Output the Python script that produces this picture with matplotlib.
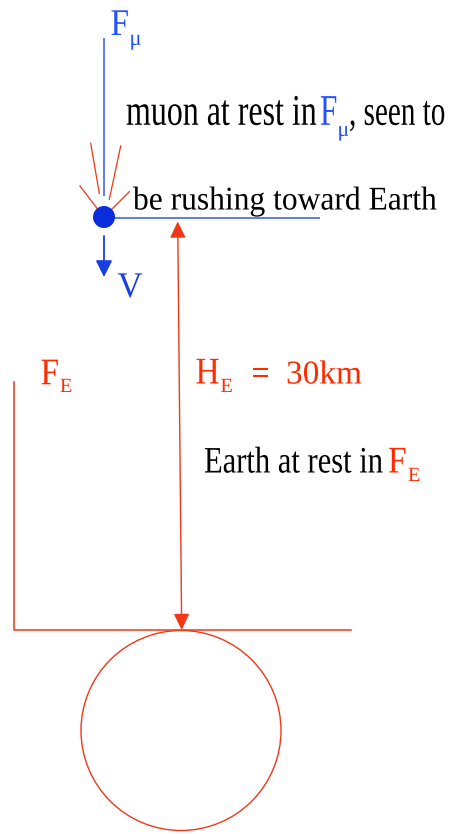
import matplotlib
matplotlib.use("Agg")
import matplotlib.pyplot as plt
from matplotlib.patches import Circle, FancyArrowPatch, ArrowStyle
from matplotlib.patheffects import AbstractPathEffect
from matplotlib.transforms import Affine2D

# ---- content ----
frame_letter = "F"
muon_sub = "μ"
earth_sub = "E"
muon_caption = ["muon at rest in", ", seen to", "be rushing toward Earth"]
earth_caption = "Earth at rest in"
height_symbol = "H"
height_value = "30km"
velocity_label = "V"

# ---- colours ----
BLUE_TXT = "#2050ff"
BLUE_LINE = "#5073ee"
BLUE_DOT = "#0b2ddb"
BLUE_ARROW = "#1a3ee0"
RED = "#ff2a00"
RED_LINE = "#f03818"

plt.rcParams["font.family"] = ["Liberation Serif", "DejaVu Serif"]


class Stretch(AbstractPathEffect):
    """Scale the glyph outlines about the text baseline origin."""

    def __init__(self, sx=1.0, sy=1.0):
        super().__init__()
        self.sx, self.sy = sx, sy

    def draw_path(self, renderer, gc, tpath, affine, rgbFace=None):
        renderer.draw_path(gc, tpath, Affine2D().scale(self.sx, self.sy) + affine, rgbFace)


fig = plt.figure(figsize=(4.55, 8.34), dpi=100)
ax = fig.add_axes([0, 0, 1, 1])
ax.set_xlim(0, 455)
ax.set_ylim(834, 0)
ax.axis("off")


def put(x, y, s, size, color="black", sy=1.0, sx=1.0):
    ax.text(x, y, s, fontsize=size, color=color, ha="left", va="baseline",
            path_effects=[Stretch(sx, sy)])


def arrow(p0, p1, style, color, lw):
    a = FancyArrowPatch(p0, p1, arrowstyle=style, color=color, lw=lw,
                        shrinkA=0, shrinkB=0, mutation_scale=1)
    ax.add_patch(a)


# ---- muon frame ----
ax.plot([103.5, 103.5], [38, 196], color=BLUE_LINE, lw=1.3, solid_capstyle="butt")
ax.plot([104, 320], [217.5, 217.5], color=BLUE_LINE, lw=1.3, solid_capstyle="butt")
ax.add_patch(Circle((104, 217), 11, facecolor=BLUE_DOT, edgecolor="none", zorder=3))
arrow((104, 236), (104, 277), ArrowStyle("-|>", head_length=10, head_width=5), BLUE_ARROW, 1.3)

# red rays from the muon
rays = [((90.7, 143.3), (99.3, 193.3)),
        ((120.7, 146.0), (109.3, 199.3)),
        ((80.0, 186.0), (98.3, 210.0)),
        ((129.3, 191.7), (109.3, 211.7))]
for (x0, y0), (x1, y1) in rays:
    ax.plot([x0, x1], [y0, y1], color=RED_LINE, lw=0.9)

# ---- height arrow ----
arrow((177.7, 221.5), (181.7, 630), ArrowStyle("<|-|>", head_length=10, head_width=4.8), RED_LINE, 1.0)

# ---- earth frame ----
ax.plot([13.5, 13.5, 351], [382, 630, 630], color=RED_LINE, lw=1.1)
ax.add_patch(Circle((181, 730.5), 100, fill=False, edgecolor=RED_LINE, lw=1.0))

# ---- text ----
# F_mu label
put(110.5, 35, frame_letter, 24, BLUE_TXT, sy=1.13)
put(129.5, 45, muon_sub, 16, BLUE_TXT)

# muon caption
put(126, 124.8, muon_caption[0], 23, sy=1.37)
put(320, 124.8, frame_letter, 22.5, BLUE_TXT, sy=1.4)
put(337.5, 136, muon_sub, 15.5, BLUE_TXT)
put(349, 124.8, muon_caption[1], 21, sy=1.45)
put(133, 209.5, muon_caption[2], 22.7, sy=1.05)

# V
put(117.5, 297, velocity_label, 25, BLUE_ARROW, sy=1.04)

# F_E label
put(40.5, 384.3, frame_letter, 24, RED, sy=1.13)
put(60, 392, earth_sub, 14.5, RED)

# H_E = 30km
put(195.5, 383.5, height_symbol, 24, RED, sy=1.13)
put(220.5, 392, earth_sub, 14.5, RED)
put(251, 383.5, "=", 24, RED)
put(286, 383.5, height_value, 24, RED)

# Earth caption
put(204, 472.5, earth_caption, 22, sy=1.22)
put(388, 472.5, frame_letter, 24, RED, sy=1.13)
put(408, 481, earth_sub, 14.5, RED)

fig.savefig("out.png", dpi=100)
